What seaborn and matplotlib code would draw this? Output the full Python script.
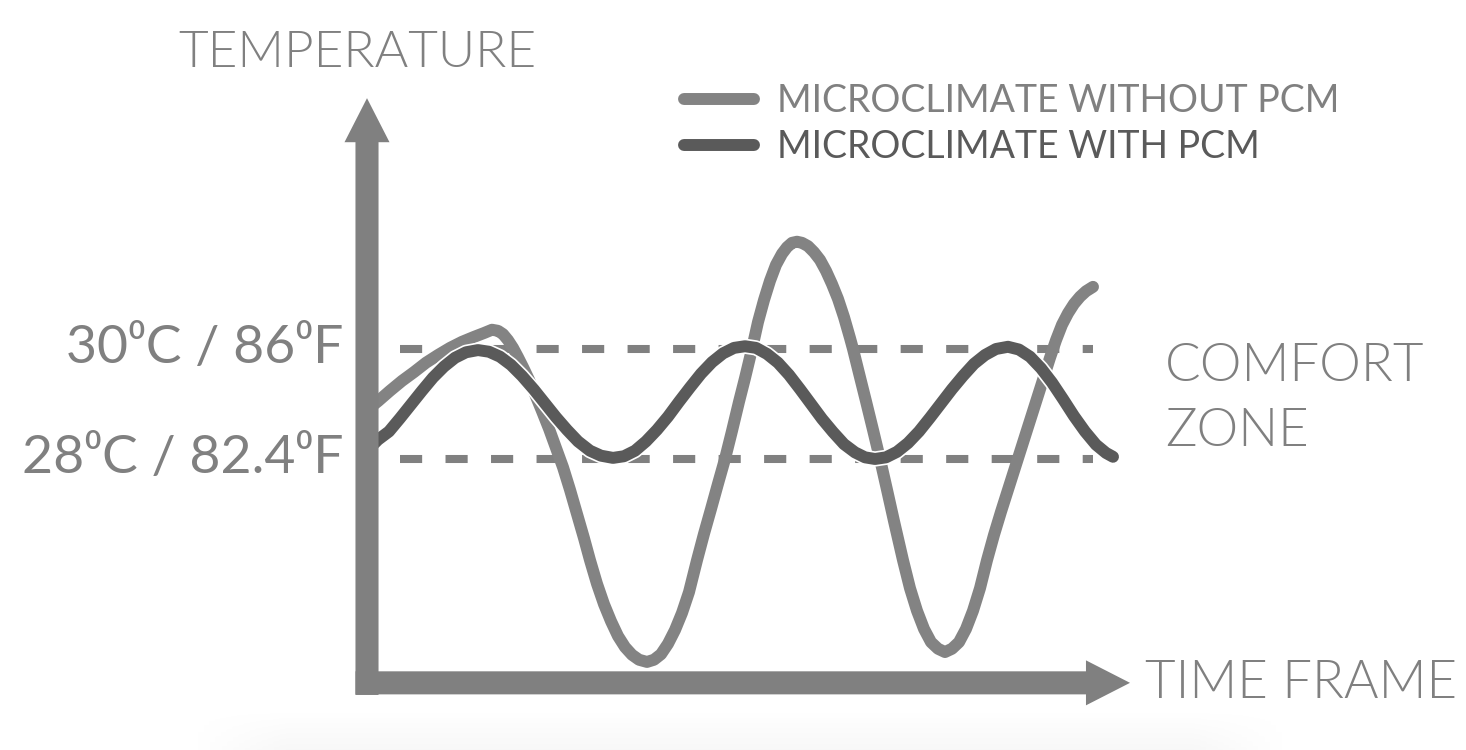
import numpy as np
import pandas as pd
import seaborn as sns
import matplotlib.pyplot as plt
import matplotlib.patheffects as pe
from matplotlib.lines import Line2D

# values (time in arbitrary units, temperature in deg C)
t_without = [0.00, 0.11, 0.23, 0.35, 0.47, 0.59, 0.71, 0.83, 0.95, 1.07, 1.17, 1.25, 1.31,
             1.36, 1.41, 1.46, 1.51, 1.56, 1.62, 1.68, 1.75, 1.82, 1.89, 1.96, 2.03, 2.10,
             2.17, 2.23, 2.30, 2.37, 2.44, 2.51, 2.58, 2.65, 2.72, 2.80, 2.87, 2.94, 3.01,
             3.08, 3.15, 3.22, 3.30, 3.37, 3.44, 3.51, 3.58, 3.65, 3.72, 3.78, 3.85, 3.91,
             3.97, 4.03, 4.09, 4.15, 4.20, 4.25, 4.30, 4.35, 4.41, 4.47, 4.53, 4.59, 4.65,
             4.71, 4.77, 4.83, 4.86, 4.92, 4.99, 5.06, 5.13, 5.20, 5.27, 5.36, 5.43, 5.50,
             5.57, 5.64, 5.71, 5.78, 5.85, 5.92, 5.99, 6.06, 6.13, 6.20, 6.27, 6.34, 6.41,
             6.48, 6.55, 6.62, 6.69, 6.76, 6.83, 6.89, 6.95, 7.01, 7.07, 7.13, 7.19, 7.26]
temp_without = [28.89, 29.05, 29.24, 29.42, 29.58, 29.75, 29.89, 30.02, 30.13, 30.22, 30.29,
                30.35, 30.33, 30.27, 30.16, 30.02, 29.85, 29.67, 29.44, 29.18, 28.87, 28.55,
                28.20, 27.85, 27.44, 27.00, 26.56, 26.16, 25.73, 25.36, 25.05, 24.78, 24.58,
                24.44, 24.35, 24.31, 24.35, 24.45, 24.64, 24.89, 25.20, 25.58, 26.16, 26.64,
                27.09, 27.55, 28.00, 28.51, 29.04, 29.47, 30.00, 30.49, 30.89, 31.24, 31.53,
                31.73, 31.85, 31.93, 31.95, 31.93, 31.87, 31.76, 31.62, 31.42, 31.18, 30.91,
                30.58, 30.20, 30.00, 29.56, 29.05, 28.53, 28.00, 27.44, 26.87, 26.16, 25.65,
                25.24, 24.91, 24.67, 24.55, 24.49, 24.55, 24.67, 24.91, 25.24, 25.65, 26.16,
                26.62, 27.04, 27.44, 27.84, 28.24, 28.64, 29.04, 29.44, 29.84, 30.16, 30.44,
                30.65, 30.82, 30.95, 31.05, 31.13]

t_with = [0.00, 0.11, 0.22, 0.33, 0.44, 0.55, 0.66, 0.77, 0.88, 0.99, 1.11, 1.22, 1.33,
          1.44, 1.55, 1.67, 1.78, 1.89, 2.00, 2.11, 2.23, 2.34, 2.46, 2.57, 2.68, 2.79,
          2.90, 3.01, 3.12, 3.23, 3.34, 3.45, 3.56, 3.67, 3.78, 3.89, 4.00, 4.11, 4.22,
          4.33, 4.44, 4.55, 4.66, 4.77, 4.88, 4.98, 5.08, 5.19, 5.30, 5.41, 5.52, 5.63,
          5.74, 5.85, 5.96, 6.07, 6.18, 6.29, 6.41, 6.52, 6.63, 6.74, 6.85, 6.96, 7.07,
          7.18, 7.29, 7.39, 7.46]
temp_with = [28.15, 28.35, 28.50, 28.74, 28.99, 29.24, 29.48, 29.68, 29.84, 29.94, 29.98,
             29.95, 29.86, 29.71, 29.51, 29.26, 29.01, 28.76, 28.53, 28.32, 28.15, 28.06,
             28.02, 28.05, 28.15, 28.32, 28.53, 28.77, 29.04, 29.30, 29.55, 29.76, 29.92,
             30.02, 30.05, 30.02, 29.91, 29.75, 29.53, 29.27, 29.00, 28.73, 28.49, 28.27,
             28.12, 28.03, 28.00, 28.03, 28.13, 28.29, 28.50, 28.75, 29.01, 29.27, 29.51,
             29.73, 29.89, 30.00, 30.04, 29.99, 29.86, 29.65, 29.39, 29.09, 28.78, 28.50,
             28.26, 28.11, 28.04]

series_names = ["MICROCLIMATE WITHOUT PCM", "MICROCLIMATE WITH PCM"]
comfort_limits = [30, 28]
comfort_labels = ["30\u2070C / 86\u2070F", "28\u2070C / 82.4\u2070F"]

light = "#838383"
dark = "#5a5a5a"
grey = "#808080"

sns.set_theme(style="white")
plt.rcParams["font.family"] = ["Lato", "DejaVu Sans"]

df = pd.concat([
    pd.DataFrame({"time": t_without, "temp": temp_without, "series": series_names[0]}),
    pd.DataFrame({"time": t_with, "temp": temp_with, "series": series_names[1]}),
])

fig = plt.figure(figsize=(14.66, 7.5), dpi=100)
ax = fig.add_axes([0, 0, 1, 1])
ax.set_xlim(-3.67, 10.99)
ax.set_ylim(22.709, 36.345)
ax.axis("off")

# comfort zone dashed lines
ax.hlines(comfort_limits, 0.33, 7.26, colors=grey, lw=5.8, linestyles=(0, (2.75, 2.9)),
          zorder=1, capstyle="butt")

sns.lineplot(data=df, x="time", y="temp", hue="series", hue_order=series_names,
             palette={series_names[0]: light, series_names[1]: dark},
             estimator=None, sort=False, lw=8.6, legend=False, ax=ax,
             solid_capstyle="round", solid_joinstyle="round", zorder=2)
ax.lines[-1].set_path_effects([pe.Stroke(linewidth=11, foreground="white"), pe.Normal()])
ax.lines[-1].set_zorder(2.5)

# axis arrows
arrow_style = "simple,head_length=31.7,head_width=32.4,tail_width=16.6"
ax.annotate("", xy=(0.0, 34.56), xytext=(0.0, 23.71),
            arrowprops=dict(arrowstyle=arrow_style, color=grey, lw=0, shrinkA=0, shrinkB=0,
                            mutation_scale=1), zorder=3)
ax.annotate("", xy=(7.63, 23.93), xytext=(-0.115, 23.93),
            arrowprops=dict(arrowstyle=arrow_style, color=grey, lw=0, shrinkA=0, shrinkB=0,
                            mutation_scale=1), zorder=3)

# labels
for val, lab in zip(comfort_limits, comfort_labels):
    ax.text(-0.24, val, lab, ha="right", va="center", fontsize=38.5, color=grey)

fig.text(178 / 1466, 1 - 53 / 750, "TEMPERATURE", fontsize=37, color=grey,
         fontweight=300, ha="left", va="center")
fig.text(1145 / 1466, 1 - 683 / 750, "TIME FRAME", fontsize=38, color=grey,
         fontweight=300, ha="left", va="center")
fig.text(1165 / 1466, 1 - 399 / 750, "COMFORT\nZONE", fontsize=38, color=grey,
         fontweight=300, ha="left", va="center", linespacing=1.45)

handles = [Line2D([], [], color=light, lw=8.6, solid_capstyle="round"),
           Line2D([], [], color=dark, lw=8.6, solid_capstyle="round")]
fig.legend(handles, series_names, loc="upper left", bbox_to_anchor=(684 / 1466, 1 - 83 / 750),
           frameon=False, fontsize=27, labelcolor=[grey, dark], handlelength=1.87,
           handletextpad=0.6, labelspacing=0.28, borderpad=0, borderaxespad=0)

# faint shadow at the bottom
yy = np.linspace(0, 1, 40)[:, None]
xx = np.linspace(-1, 1, 200)[None, :]
shade = 0.06 * yy * np.clip((1 - np.abs(xx)) * 6, 0, 1)
ax.imshow(shade, cmap="Greys", vmin=0, vmax=1, extent=(-1.77, 9.23, 22.709, 23.4),
          origin="upper", aspect="auto", zorder=0, interpolation="bilinear")

fig.savefig("out.png", dpi=100)
